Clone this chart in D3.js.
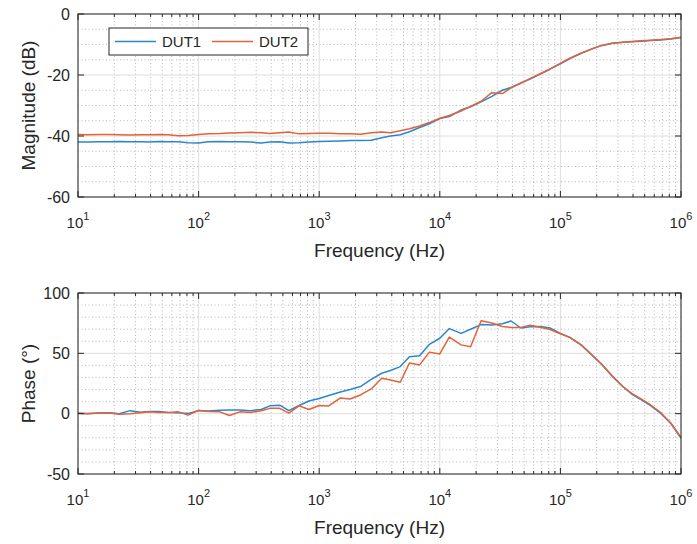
<!DOCTYPE html>
<html>
<head>
<meta charset="utf-8">
<script src="https://cdn.jsdelivr.net/npm/d3@7"></script>
<style>
  body { margin: 0; background: #fff; }
  text { font-family: "Liberation Sans", Arial, sans-serif; fill: #262626; }
</style>
</head>
<body>
<svg id="chart" width="697" height="544"></svg>
<script>
// frequency points (Hz)
var freq = [10,12,15,18,22,27,33,39,47,56,68,82,
  100,120,150,180,220,270,330,390,470,560,680,820,
  1000,1200,1500,1800,2200,2700,3300,3900,4700,5600,6800,8200,
  10000,12000,15000,18000,22000,27000,33000,39000,47000,56000,68000,82000,
  100000,120000,150000,180000,220000,270000,330000,390000,470000,560000,680000,820000,
  1000000];

var magDUT1 = [-42.0,-42.0,-41.9,-41.9,-41.8,-41.9,-41.9,-42.0,-41.8,-41.9,-41.9,-42.2,
  -42.3,-41.9,-41.8,-41.9,-41.9,-42.0,-42.3,-42.0,-41.9,-42.3,-42.2,-42.0,
  -41.8,-41.7,-41.6,-41.5,-41.5,-41.4,-40.6,-40.0,-39.6,-38.6,-37.2,-36.0,
  -34.3,-33.6,-31.5,-30.4,-28.8,-27.0,-25.0,-24.1,-22.6,-21.3,-19.7,-18.1,
  -16.3,-14.6,-12.8,-11.6,-10.3,-9.6,-9.3,-9.1,-8.9,-8.7,-8.5,-8.2,-7.7];

var magDUT2 = [-39.5,-39.6,-39.5,-39.5,-39.6,-39.7,-39.6,-39.6,-39.5,-39.6,-39.9,-39.8,
  -39.5,-39.3,-39.2,-39.0,-38.9,-38.8,-38.9,-39.2,-38.9,-38.7,-39.3,-39.2,
  -39.1,-39.1,-39.3,-39.3,-39.4,-38.9,-38.7,-38.9,-38.3,-37.6,-36.7,-35.6,
  -34.2,-33.3,-31.8,-30.3,-28.6,-25.8,-26.1,-24.2,-22.7,-21.2,-19.6,-18.0,
  -16.2,-14.5,-12.8,-11.5,-10.3,-9.6,-9.3,-9.0,-8.8,-8.6,-8.4,-8.1,-7.6];

var phaseDUT1 = [0.3,0.0,0.5,0.8,0.0,2.5,1.2,1.8,1.7,1.0,0.8,0.2,
  2.5,2.2,2.8,3.0,3.0,2.5,3.5,6.5,7.0,2.5,6.8,10.5,
  12.5,15.0,18.0,20.0,22.5,28.5,33.5,35.8,39.0,47.2,48.0,57.5,
  62.5,70.5,66.5,70.0,73.8,73.5,74.5,76.8,71.0,72.0,72.3,71.0,
  66.5,63.2,56.5,49.0,40.8,30.9,22.3,16.3,11.4,6.6,0.2,-7.9,-20.4];

var phaseDUT2 = [0.3,0.2,0.5,0.5,-0.5,0.0,0.8,1.5,1.0,1.0,1.5,-1.2,
  2.8,1.8,1.5,-1.5,1.5,1.0,2.5,4.4,4.4,0.5,6.5,3.5,
  6.8,6.4,13.0,12.2,15.5,20.5,29.3,27.9,26.0,42.0,40.4,51.0,
  49.5,63.5,57.0,55.5,77.0,75.2,72.2,71.5,71.5,73.3,71.6,69.8,
  66.2,63.0,56.8,49.5,41.2,31.2,22.5,16.8,12.0,7.2,0.8,-7.5,-19.5];

var seriesNames = ["DUT1", "DUT2"];
var colors = ["#2a86cf", "#e2623a"];
var xExponents = [1, 2, 3, 4, 5, 6];
var magTicks = [0, -20, -40, -60];
var phaseTicks = [100, 50, 0, -50];

var svg = d3.select("#chart");
var left = 78, right = 681;

var x = d3.scaleLog().domain([10, 1e6]).range([left, right]);

function drawPanel(top, bottom, yDomain, yTicks, yMinorStep, series, yLabel) {
  var y = d3.scaleLinear().domain(yDomain).range([bottom, top]);
  var g = svg.append("g");

  // minor grid
  var xMinor = x.ticks().filter(function(v) { return xExponents.indexOf(Math.round(Math.log10(v))) < 0 || Math.abs(Math.log10(v) - Math.round(Math.log10(v))) > 1e-6; });
  var yMinor = d3.range(yDomain[0], yDomain[1] + 0.001, yMinorStep).filter(function(v) { return yTicks.indexOf(v) < 0; });

  g.selectAll(".xminor").data(xMinor).enter().append("line")
    .attr("x1", function(d) { return x(d); }).attr("x2", function(d) { return x(d); })
    .attr("y1", top).attr("y2", bottom)
    .attr("stroke", "#b8b8b8").attr("stroke-width", 1).attr("stroke-dasharray", "1,2.5");
  g.selectAll(".yminor").data(yMinor).enter().append("line")
    .attr("x1", left).attr("x2", right)
    .attr("y1", function(d) { return y(d); }).attr("y2", function(d) { return y(d); })
    .attr("stroke", "#b8b8b8").attr("stroke-width", 1).attr("stroke-dasharray", "1,2.5");

  // major grid
  g.selectAll(".xmajor").data(xExponents).enter().append("line")
    .attr("x1", function(d) { return x(Math.pow(10, d)); }).attr("x2", function(d) { return x(Math.pow(10, d)); })
    .attr("y1", top).attr("y2", bottom)
    .attr("stroke", "#dedede").attr("stroke-width", 1);
  g.selectAll(".ymajor").data(yTicks).enter().append("line")
    .attr("x1", left).attr("x2", right)
    .attr("y1", function(d) { return y(d); }).attr("y2", function(d) { return y(d); })
    .attr("stroke", "#dedede").attr("stroke-width", 1);

  // curves
  var line = d3.line()
    .x(function(d) { return x(d[0]); })
    .y(function(d) { return y(d[1]); });
  series.forEach(function(vals, i) {
    g.append("path")
      .datum(d3.zip(freq, vals))
      .attr("d", line)
      .attr("fill", "none")
      .attr("stroke", colors[i])
      .attr("stroke-width", 1.5)
      .attr("stroke-linejoin", "round");
  });

  // box
  g.append("rect")
    .attr("x", left).attr("y", top)
    .attr("width", right - left).attr("height", bottom - top)
    .attr("fill", "none").attr("stroke", "#262626").attr("stroke-width", 1);

  // inward ticks on all four sides
  x.ticks().forEach(function(v) {
    var isMajor = Math.abs(Math.log10(v) - Math.round(Math.log10(v))) < 1e-6;
    var len = isMajor ? 6 : 3;
    [[bottom, -len], [top, len]].forEach(function(p) {
      g.append("line").attr("x1", x(v)).attr("x2", x(v))
        .attr("y1", p[0]).attr("y2", p[0] + p[1])
        .attr("stroke", "#262626").attr("stroke-width", 1);
    });
  });
  yTicks.forEach(function(v) {
    [[left, 6], [right, -6]].forEach(function(p) {
      g.append("line").attr("x1", p[0]).attr("x2", p[0] + p[1])
        .attr("y1", y(v)).attr("y2", y(v))
        .attr("stroke", "#262626").attr("stroke-width", 1);
    });
  });

  // y tick labels
  g.selectAll(".ylab").data(yTicks).enter().append("text")
    .attr("x", left - 8).attr("y", function(d) { return y(d); })
    .attr("dy", "0.35em")
    .attr("text-anchor", "end")
    .attr("font-size", 16)
    .text(function(d) { return d; });

  // x tick labels with superscript
  var xl = g.selectAll(".xlab").data(xExponents).enter().append("text")
    .attr("x", function(d) { return x(Math.pow(10, d)); })
    .attr("y", bottom + 31)
    .attr("text-anchor", "middle")
    .attr("font-size", 15);
  xl.append("tspan").text("10");
  xl.append("tspan").attr("dy", -8).attr("font-size", 11).text(function(d) { return d; });

  // axis labels
  g.append("text")
    .attr("x", (left + right) / 2).attr("y", bottom + 60)
    .attr("text-anchor", "middle").attr("font-size", 19)
    .text("Frequency (Hz)");
  g.append("text")
    .attr("transform", "translate(35," + ((top + bottom) / 2) + ") rotate(-90)")
    .attr("text-anchor", "middle").attr("font-size", 19)
    .text(yLabel);

  return g;
}

drawPanel(14, 197, [-60, 0], magTicks, 5, [magDUT1, magDUT2], "Magnitude (dB)");
drawPanel(293, 474, [-50, 100], phaseTicks, 10, [phaseDUT1, phaseDUT2], "Phase (\u00b0)");

// legend
var legend = svg.append("g");
legend.append("rect")
  .attr("x", 109).attr("y", 28).attr("width", 199).attr("height", 27)
  .attr("fill", "#fff").attr("stroke", "#262626").attr("stroke-width", 1);
var legX = [115, 212];
seriesNames.forEach(function(name, i) {
  legend.append("line")
    .attr("x1", legX[i]).attr("x2", legX[i] + 41)
    .attr("y1", 41.5).attr("y2", 41.5)
    .attr("stroke", colors[i]).attr("stroke-width", 1.5);
  legend.append("text")
    .attr("x", legX[i] + 47).attr("y", 41.5).attr("dy", "0.35em")
    .attr("font-size", 15)
    .text(name);
});
</script>
</body>
</html>
